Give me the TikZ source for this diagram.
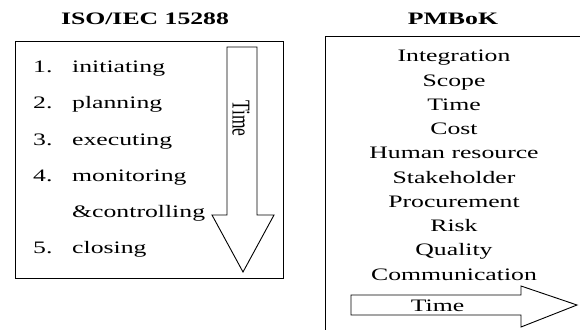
\documentclass[tikz,border=0pt]{standalone}
\usepackage{fontspec}
\setmainfont{Liberation Serif}[FakeStretch=1.47]
\newfontfamily\plainserif{Liberation Serif}
\begin{document}
\begin{tikzpicture}[x=1pt,y=-1pt,
  every node/.style={inner sep=0pt},
  txt/.style={font=\fontsize{17.5}{21}\selectfont},
  ttl/.style={font=\fontsize{17.5}{21}\selectfont\bfseries, anchor=base},
  frame/.style={draw=black, line width=1pt},
  arrowshape/.style={draw=black, line width=0.9pt, fill=white, line join=miter},
  num/.style={txt, anchor=base west},
  item/.style={txt, anchor=base west},
  area/.style={txt, anchor=base}]
\useasboundingbox (0,0) rectangle (580,329);
% titles
\node[ttl] (isotitle) at (145,25) {ISO/IEC 15288};
\node[ttl] (pmtitle) at (453,25) {PMBoK};
% left frame
\draw[frame] (15,42) rectangle (283,278);
% down arrow
\draw[arrowshape] (227,47) -- (257,47) -- (257,215) -- (274,215) -- (243,272) -- (212,215) -- (227,215) -- cycle;
\node (ltime) at (241,118.5) {\scalebox{1.47}[1]{\rotatebox{-90}{\plainserif\fontsize{17.5}{21}\selectfont Time}}};
% list
\node[num] (n1) at (33,72.6) {1.};
\node[item] (i1) at (72,72.6) {initiating};
\node[num] (n2) at (33,108.8) {2.};
\node[item] (i2) at (72,108.8) {planning};
\node[num] (n3) at (33,145) {3.};
\node[item] (i3) at (72,145) {executing};
\node[num] (n4) at (33,181) {4.};
\node[item] (i4) at (72,181) {monitoring};
\node[item] (i4b) at (72,217) {\&controlling};
\node[num] (n5) at (33,253) {5.};
\node[item] (i5) at (72,253) {closing};
% right frame (cut by the picture edge)
\begin{scope}
\clip (0,0) rectangle (580,329);
\draw[frame] (325,37) rectangle (600,345);
\end{scope}
% knowledge areas
\node[area] (a1) at (454,61.7) {Integration};
\node[area] (a2) at (454,86) {Scope};
\node[area] (a3) at (454,110.2) {Time};
\node[area] (a4) at (454,134.5) {Cost};
\node[area] (a5) at (454,158.8) {Human resource};
\node[area] (a6) at (454,183) {Stakeholder};
\node[area] (a7) at (454,207.3) {Procurement};
\node[area] (a8) at (454,231.6) {Risk};
\node[area] (a9) at (454,255.9) {Quality};
\node[area] (a10) at (454,280.2) {Communication};
% right arrow
\draw[arrowshape] (351,295) -- (521,295) -- (521,286) -- (577,305) -- (521,327) -- (521,315) -- (351,315) -- cycle;
\node[area] (rtime) at (437.5,311.7) {Time};
\end{tikzpicture}
\end{document}
